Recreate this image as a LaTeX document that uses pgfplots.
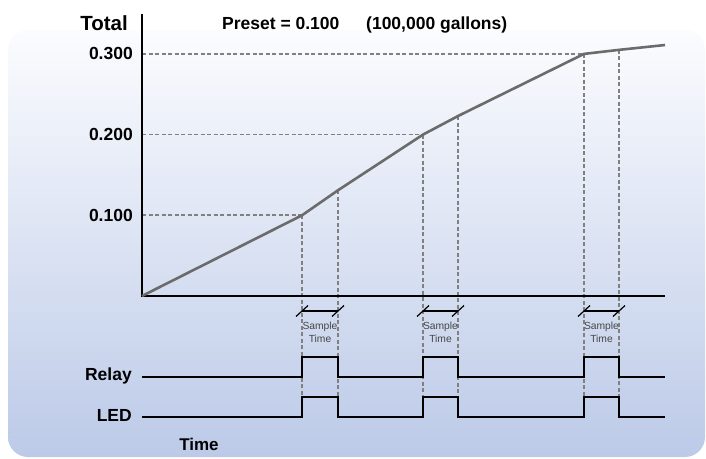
\documentclass[border=0pt]{standalone}
\usepackage{fontspec}
\setmainfont{Liberation Sans}
\usepackage{pgfplots}
\pgfplotsset{compat=1.18}
\definecolor{bgtop}{HTML}{FBFCFE}
\definecolor{bgbot}{HTML}{BCCAE8}
\definecolor{curvecol}{HTML}{6B6B6B}
\definecolor{dashcol}{HTML}{808080}
\newcommand{\lbl}{\fontsize{17.5}{20}\selectfont\bfseries}
\tikzset{guide/.style={dashcol, line width=1.6pt, dash pattern=on 4pt off 2.5pt}}
\begin{document}
\begin{tikzpicture}
\useasboundingbox (0pt,0pt) rectangle (706pt,458pt);
\shade[top color=bgtop, bottom color=bgbot, rounded corners=20pt] (8pt,1pt) rectangle (705pt,428pt);
\begin{axis}[
  at={(0pt,0pt)}, anchor=south west,
  scale only axis, width=706pt, height=458pt,
  xmin=-142, xmax=564, ymin=-0.20074, ymax=0.36679,
  hide axis, clip=false,
]
% dashed guides
\addplot[guide] coordinates {(0,0.100) (160,0.100)};
\addplot[guide] coordinates {(0,0.200) (281,0.200)};
\addplot[guide] coordinates {(0,0.300) (442,0.300)};
\addplot[guide] coordinates {(160,0.100) (160,-0.150)};
\addplot[guide] coordinates {(196,0.131) (196,-0.150)};
\addplot[guide] coordinates {(281,0.200) (281,-0.150)};
\addplot[guide] coordinates {(316,0.223) (316,-0.150)};
\addplot[guide] coordinates {(442,0.300) (442,-0.150)};
\addplot[guide] coordinates {(477,0.305) (477,-0.150)};
% axes
\addplot[black, line width=2.2pt] coordinates {(0,0.3494) (0,0) (523,0)};
% total curve
\addplot[curvecol, line width=2.6pt, line join=round] coordinates {
  (0,0) (160,0.100) (196,0.131) (281,0.200) (316,0.223) (442,0.300) (477,0.305) (523,0.311)};
% relay and LED pulses
\addplot[black, line width=2pt, const plot] coordinates {
  (0,-0.1004) (160,-0.0756) (196,-0.1004) (281,-0.0756) (316,-0.1004) (442,-0.0756) (477,-0.1004) (523,-0.1004)};
\addplot[black, line width=2pt, const plot] coordinates {
  (0,-0.1499) (160,-0.1252) (196,-0.1499) (281,-0.1252) (316,-0.1499) (442,-0.1252) (477,-0.1499) (523,-0.1499)};
% sample time markers
\addplot[black, line width=1.5pt] coordinates {(160,-0.0186) (196,-0.0186)};
\addplot[black, line width=1.5pt] coordinates {(281,-0.0186) (316,-0.0186)};
\addplot[black, line width=1.5pt] coordinates {(442,-0.0186) (477,-0.0186)};
\addplot[black, line width=1.2pt] coordinates {(154,-0.0254) (166,-0.0118)};
\addplot[black, line width=1.2pt] coordinates {(190,-0.0254) (202,-0.0118)};
\addplot[black, line width=1.2pt] coordinates {(275,-0.0254) (287,-0.0118)};
\addplot[black, line width=1.2pt] coordinates {(310,-0.0254) (322,-0.0118)};
\addplot[black, line width=1.2pt] coordinates {(436,-0.0254) (448,-0.0118)};
\addplot[black, line width=1.2pt] coordinates {(471,-0.0254) (483,-0.0118)};
\node[text=black!72, font=\fontsize{10.3}{12.5}\selectfont, align=center, inner sep=0pt, anchor=north] at (axis cs:178,-0.0322) {Sample\\Time};
\node[text=black!72, font=\fontsize{10.3}{12.5}\selectfont, align=center, inner sep=0pt, anchor=north] at (axis cs:298.5,-0.0322) {Sample\\Time};
\node[text=black!72, font=\fontsize{10.3}{12.5}\selectfont, align=center, inner sep=0pt, anchor=north] at (axis cs:459.5,-0.0322) {Sample\\Time};
% labels
\node[anchor=east, inner sep=0pt, font=\fontsize{20.5}{23}\selectfont\bfseries] at (axis cs:-14,0.3377) {Total};
\node[anchor=east, inner sep=0pt, font=\lbl] at (axis cs:-9,0.300) {0.300};
\node[anchor=east, inner sep=0pt, font=\lbl] at (axis cs:-9,0.200) {0.200};
\node[anchor=east, inner sep=0pt, font=\lbl] at (axis cs:-9,0.100) {0.100};
\node[anchor=base east, inner sep=0pt, font=\lbl] at (axis cs:-10,-0.1050) {Relay};
\node[anchor=base east, inner sep=0pt, font=\lbl] at (axis cs:-10,-0.1558) {LED};
\node[anchor=base west, inner sep=0pt, font=\lbl] at (axis cs:80,0.3305) {Preset = 0.100};
\node[anchor=base west, inner sep=0pt, font=\lbl] at (axis cs:224,0.3305) {(100,000 gallons)};
% garbled label at the bottom
\node[inner sep=0pt, font=\fontsize{17}{19}\selectfont\bfseries] at (axis cs:57,-0.1840) {Time};
\end{axis}
\end{tikzpicture}
\end{document}
